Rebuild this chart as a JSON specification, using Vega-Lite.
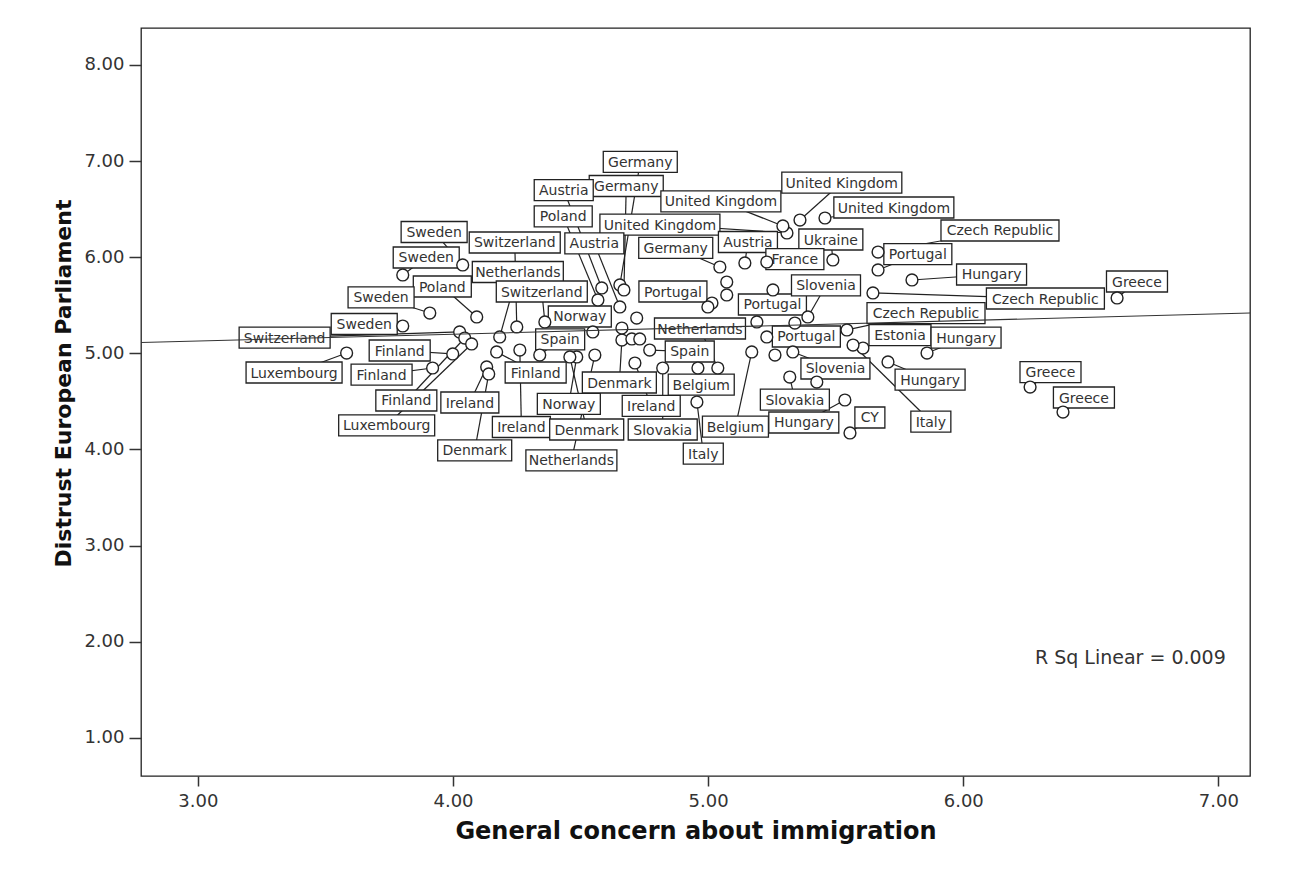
{
  "$schema": "https://vega.github.io/schema/vega-lite/v6.json",
  "width": 1109,
  "height": 748,
  "autosize": {"type": "none"},
  "padding": {"left": 141, "top": 28, "right": 48, "bottom": 96},
  "background": "white",
  "config": {
    "view": {"stroke": "#222", "strokeWidth": 1.3},
    "axis": {"grid": false, "domain": false, "tickWidth": 1.5, "tickColor": "#333",
      "labelFont": "DejaVu Sans", "labelFontSize": 18, "labelColor": "#333",
      "titleFont": "DejaVu Sans", "titleFontWeight": "bold", "titleColor": "#111"},
    "axisX": {"tickSize": 10, "labelPadding": 6, "titleFontSize": 24, "titleY": 62, "titleBaseline": "alphabetic"},
    "axisY": {"tickSize": 12, "labelPadding": 5, "titleFontSize": 22, "titleX": -78, "titleY": 355, "titleAngle": 270, "titleAlign": "center", "titleBaseline": "middle"}
  },
  "datasets": {
    "pts": [
      {"country":"Sweden","x":4.038,"y":5.919,"lx":3.926,"ly":6.262},
      {"country":"Sweden","x":3.803,"y":5.815,"lx":3.895,"ly":5.997},
      {"country":"Poland","x":4.093,"y":5.378,"lx":3.958,"ly":5.695},
      {"country":"Sweden","x":3.909,"y":5.419,"lx":3.718,"ly":5.581},
      {"country":"Sweden","x":3.803,"y":5.284,"lx":3.652,"ly":5.305},
      {"country":"Switzerland","x":4.026,"y":5.222,"lx":3.340,"ly":5.164},
      {"country":"Luxembourg","x":3.583,"y":5.003,"lx":3.377,"ly":4.800},
      {"country":"Finland","x":3.999,"y":4.993,"lx":3.791,"ly":5.029},
      {"country":"Finland","x":3.920,"y":4.847,"lx":3.720,"ly":4.779},
      {"country":"Finland","x":4.046,"y":5.159,"lx":3.817,"ly":4.509},
      {"country":"Luxembourg","x":4.073,"y":5.097,"lx":3.740,"ly":4.249},
      {"country":"Ireland","x":4.132,"y":4.858,"lx":4.066,"ly":4.488},
      {"country":"Denmark","x":4.140,"y":4.785,"lx":4.085,"ly":3.989},
      {"country":"Ireland","x":4.262,"y":5.034,"lx":4.268,"ly":4.233},
      {"country":"Switzerland","x":4.250,"y":5.274,"lx":4.242,"ly":6.153},
      {"country":"Netherlands","x":4.183,"y":5.170,"lx":4.254,"ly":5.846},
      {"country":"Switzerland","x":4.360,"y":5.326,"lx":4.348,"ly":5.643},
      {"country":"Norway","x":4.548,"y":5.222,"lx":4.497,"ly":5.383},
      {"country":"Spain","x":4.340,"y":4.982,"lx":4.420,"ly":5.144},
      {"country":"Finland","x":4.171,"y":5.014,"lx":4.324,"ly":4.800},
      {"country":"Norway","x":4.485,"y":4.962,"lx":4.454,"ly":4.473},
      {"country":"Denmark","x":4.458,"y":4.962,"lx":4.524,"ly":4.207},
      {"country":"Netherlands","x":4.556,"y":4.982,"lx":4.464,"ly":3.885},
      {"country":"Denmark","x":4.662,"y":5.138,"lx":4.652,"ly":4.696},
      {"country":"Ireland","x":4.713,"y":4.899,"lx":4.777,"ly":4.452},
      {"country":"Slovakia","x":4.822,"y":4.847,"lx":4.822,"ly":4.207},
      {"country":"Belgium","x":4.960,"y":4.847,"lx":4.973,"ly":4.675},
      {"country":"Italy","x":4.956,"y":4.493,"lx":4.981,"ly":3.957},
      {"country":"Belgium","x":5.171,"y":5.014,"lx":5.107,"ly":4.238},
      {"country":"Spain","x":4.771,"y":5.034,"lx":4.928,"ly":5.019},
      {"country":"Netherlands","x":5.038,"y":4.847,"lx":4.968,"ly":5.258},
      {"country":"Portugal","x":5.015,"y":5.523,"lx":4.862,"ly":5.643},
      {"country":"Germany","x":4.654,"y":5.711,"lx":4.734,"ly":6.991},
      {"country":"Germany","x":4.670,"y":5.659,"lx":4.679,"ly":6.741},
      {"country":"Austria","x":4.583,"y":5.680,"lx":4.434,"ly":6.699},
      {"country":"Poland","x":4.568,"y":5.555,"lx":4.432,"ly":6.424},
      {"country":"United Kingdom","x":5.309,"y":6.252,"lx":4.811,"ly":6.340},
      {"country":"United Kingdom","x":5.293,"y":6.325,"lx":5.050,"ly":6.580},
      {"country":"United Kingdom","x":5.360,"y":6.387,"lx":5.524,"ly":6.777},
      {"country":"United Kingdom","x":5.458,"y":6.408,"lx":5.728,"ly":6.517},
      {"country":"Germany","x":5.046,"y":5.898,"lx":4.873,"ly":6.096},
      {"country":"Austria","x":4.654,"y":5.482,"lx":4.554,"ly":6.143},
      {"country":"Austria","x":5.144,"y":5.940,"lx":5.156,"ly":6.158},
      {"country":"Ukraine","x":5.489,"y":5.971,"lx":5.481,"ly":6.184},
      {"country":"France","x":5.230,"y":5.950,"lx":5.340,"ly":5.981},
      {"country":"Portugal","x":5.254,"y":5.659,"lx":5.252,"ly":5.508},
      {"country":"Slovenia","x":5.391,"y":5.378,"lx":5.462,"ly":5.706},
      {"country":"Czech Republic","x":5.666,"y":6.054,"lx":6.144,"ly":6.278},
      {"country":"Portugal","x":5.666,"y":5.867,"lx":5.822,"ly":6.033},
      {"country":"Hungary","x":5.799,"y":5.763,"lx":6.111,"ly":5.820},
      {"country":"Greece","x":6.603,"y":5.576,"lx":6.681,"ly":5.747},
      {"country":"Czech Republic","x":5.646,"y":5.628,"lx":6.322,"ly":5.570},
      {"country":"Czech Republic","x":5.544,"y":5.243,"lx":5.854,"ly":5.419},
      {"country":"Estonia","x":5.607,"y":5.055,"lx":5.752,"ly":5.190},
      {"country":"Hungary","x":5.858,"y":5.003,"lx":6.011,"ly":5.164},
      {"country":"Hungary","x":5.705,"y":4.910,"lx":5.870,"ly":4.727},
      {"country":"Italy","x":5.568,"y":5.086,"lx":5.873,"ly":4.290},
      {"country":"Portugal","x":5.230,"y":5.170,"lx":5.385,"ly":5.175},
      {"country":"Slovenia","x":5.332,"y":5.014,"lx":5.499,"ly":4.842},
      {"country":"Slovakia","x":5.320,"y":4.753,"lx":5.340,"ly":4.519},
      {"country":"Hungary","x":5.536,"y":4.514,"lx":5.375,"ly":4.280},
      {"country":"CY","x":5.556,"y":4.171,"lx":5.634,"ly":4.332},
      {"country":"Greece","x":6.262,"y":4.649,"lx":6.342,"ly":4.805},
      {"country":"Greece","x":6.391,"y":4.389,"lx":6.473,"ly":4.540},
      {"x":5.191,"y":5.326},
      {"x":5.340,"y":5.315},
      {"x":5.262,"y":4.982},
      {"x":5.426,"y":4.701},
      {"x":4.999,"y":5.482},
      {"x":5.073,"y":5.742},
      {"x":5.073,"y":5.607},
      {"x":4.720,"y":5.367},
      {"x":4.662,"y":5.263},
      {"x":4.701,"y":5.149},
      {"x":4.732,"y":5.149}
    ],
    "fit": [{"x": 2.777, "y": 5.112}, {"x": 7.124, "y": 5.42}],
    "rsq": [{"x": 6.281, "y": 1.83, "t": "R Sq Linear = 0.009"}]
  },
  "layer": [
    {
      "data": {"name": "pts"},
      "transform": [{"filter": "isValid(datum.lx)"}],
      "mark": {"type": "rule", "stroke": "#222", "strokeWidth": 1.2},
      "encoding": {
        "x": {"field": "x", "type": "quantitative", "title": "General concern about immigration", "scale": {"domain": [2.777, 7.124], "nice": false, "zero": false}, "axis": {"values": [3, 4, 5, 6, 7], "format": ".2f"}},
        "y": {"field": "y", "type": "quantitative", "title": "Distrust European Parliament", "scale": {"domain": [0.6015, 8.385], "nice": false, "zero": false}, "axis": {"values": [1, 2, 3, 4, 5, 6, 7, 8], "format": ".2f"}},
        "x2": {"field": "lx"},
        "y2": {"field": "ly"}
      }
    },
    {
      "data": {"name": "pts"},
      "transform": [{"filter": "isValid(datum.lx)"}],
      "mark": {"type": "point", "filled": true, "fill": "white", "stroke": "#222", "strokeWidth": 1.3, "size": 14400, "opacity": 1},
      "encoding": {
        "x": {"field": "lx", "type": "quantitative", "title": "General concern about immigration", "scale": {"domain": [2.777, 7.124], "nice": false, "zero": false}, "axis": {"values": [3, 4, 5, 6, 7], "format": ".2f"}},
        "y": {"field": "ly", "type": "quantitative", "title": "Distrust European Parliament", "scale": {"domain": [0.6015, 8.385], "nice": false, "zero": false}, "axis": {"values": [1, 2, 3, 4, 5, 6, 7, 8], "format": ".2f"}},
        "shape": {
          "field": "country", "type": "nominal", "legend": null,
          "scale": {
            "domain": ["Sweden","Poland","Switzerland","Luxembourg","Finland","Ireland","Denmark","Netherlands","Norway","Spain","Germany","Austria","United Kingdom","Portugal","Belgium","Slovakia","Italy","France","Ukraine","Slovenia","Czech Republic","Hungary","Estonia","Greece","CY"],
            "range": [
              "M-0.55,-0.175L0.55,-0.175L0.55,0.175L-0.55,0.175Z",
              "M-0.4833,-0.175L0.4833,-0.175L0.4833,0.175L-0.4833,0.175Z",
              "M-0.7583,-0.175L0.7583,-0.175L0.7583,0.175L-0.7583,0.175Z",
              "M-0.8,-0.175L0.8,-0.175L0.8,0.175L-0.8,0.175Z",
              "M-0.5083,-0.175L0.5083,-0.175L0.5083,0.175L-0.5083,0.175Z",
              "M-0.4833,-0.175L0.4833,-0.175L0.4833,0.175L-0.4833,0.175Z",
              "M-0.6167,-0.175L0.6167,-0.175L0.6167,0.175L-0.6167,0.175Z",
              "M-0.7583,-0.175L0.7583,-0.175L0.7583,0.175L-0.7583,0.175Z",
              "M-0.525,-0.175L0.525,-0.175L0.525,0.175L-0.525,0.175Z",
              "M-0.4083,-0.175L0.4083,-0.175L0.4083,0.175L-0.4083,0.175Z",
              "M-0.6167,-0.175L0.6167,-0.175L0.6167,0.175L-0.6167,0.175Z",
              "M-0.4917,-0.175L0.4917,-0.175L0.4917,0.175L-0.4917,0.175Z",
              "M-1,-0.175L1,-0.175L1,0.175L-1,0.175Z",
              "M-0.5667,-0.175L0.5667,-0.175L0.5667,0.175L-0.5667,0.175Z",
              "M-0.55,-0.175L0.55,-0.175L0.55,0.175L-0.55,0.175Z",
              "M-0.575,-0.175L0.575,-0.175L0.575,0.175L-0.575,0.175Z",
              "M-0.3333,-0.175L0.3333,-0.175L0.3333,0.175L-0.3333,0.175Z",
              "M-0.4833,-0.175L0.4833,-0.175L0.4833,0.175L-0.4833,0.175Z",
              "M-0.5333,-0.175L0.5333,-0.175L0.5333,0.175L-0.5333,0.175Z",
              "M-0.575,-0.175L0.575,-0.175L0.575,0.175L-0.575,0.175Z",
              "M-0.9833,-0.175L0.9833,-0.175L0.9833,0.175L-0.9833,0.175Z",
              "M-0.5833,-0.175L0.5833,-0.175L0.5833,0.175L-0.5833,0.175Z",
              "M-0.5167,-0.175L0.5167,-0.175L0.5167,0.175L-0.5167,0.175Z",
              "M-0.5083,-0.175L0.5083,-0.175L0.5083,0.175L-0.5083,0.175Z",
              "M-0.25,-0.175L0.25,-0.175L0.25,0.175L-0.25,0.175Z"
            ]
          }
        }
      }
    },
    {
      "data": {"name": "pts"},
      "transform": [{"filter": "isValid(datum.lx)"}],
      "mark": {"type": "text", "font": "DejaVu Sans", "fontSize": 14, "fill": "#333", "align": "center", "baseline": "middle", "dy": 1},
      "encoding": {
        "x": {"field": "lx", "type": "quantitative", "title": "General concern about immigration", "scale": {"domain": [2.777, 7.124], "nice": false, "zero": false}, "axis": {"values": [3, 4, 5, 6, 7], "format": ".2f"}},
        "y": {"field": "ly", "type": "quantitative", "title": "Distrust European Parliament", "scale": {"domain": [0.6015, 8.385], "nice": false, "zero": false}, "axis": {"values": [1, 2, 3, 4, 5, 6, 7, 8], "format": ".2f"}},
        "text": {"field": "country", "type": "nominal"}
      }
    },
    {
      "data": {"name": "pts"},
      "mark": {"type": "point", "shape": "circle", "filled": true, "fill": "white", "stroke": "#222", "strokeWidth": 1.4, "size": 140, "opacity": 1},
      "encoding": {
        "x": {"field": "x", "type": "quantitative", "title": "General concern about immigration", "scale": {"domain": [2.777, 7.124], "nice": false, "zero": false}, "axis": {"values": [3, 4, 5, 6, 7], "format": ".2f"}},
        "y": {"field": "y", "type": "quantitative", "title": "Distrust European Parliament", "scale": {"domain": [0.6015, 8.385], "nice": false, "zero": false}, "axis": {"values": [1, 2, 3, 4, 5, 6, 7, 8], "format": ".2f"}}
      }
    },
    {
      "data": {"name": "fit"},
      "mark": {"type": "line", "stroke": "#333", "strokeWidth": 1.1},
      "encoding": {
        "x": {"field": "x", "type": "quantitative", "title": "General concern about immigration", "scale": {"domain": [2.777, 7.124], "nice": false, "zero": false}, "axis": {"values": [3, 4, 5, 6, 7], "format": ".2f"}},
        "y": {"field": "y", "type": "quantitative", "title": "Distrust European Parliament", "scale": {"domain": [0.6015, 8.385], "nice": false, "zero": false}, "axis": {"values": [1, 2, 3, 4, 5, 6, 7, 8], "format": ".2f"}}
      }
    },
    {
      "data": {"name": "rsq"},
      "mark": {"type": "text", "font": "DejaVu Sans", "fontSize": 19, "fill": "#333", "align": "left", "baseline": "middle"},
      "encoding": {
        "x": {"field": "x", "type": "quantitative", "title": "General concern about immigration", "scale": {"domain": [2.777, 7.124], "nice": false, "zero": false}, "axis": {"values": [3, 4, 5, 6, 7], "format": ".2f"}},
        "y": {"field": "y", "type": "quantitative", "title": "Distrust European Parliament", "scale": {"domain": [0.6015, 8.385], "nice": false, "zero": false}, "axis": {"values": [1, 2, 3, 4, 5, 6, 7, 8], "format": ".2f"}},
        "text": {"field": "t", "type": "nominal"}
      }
    }
  ]
}
